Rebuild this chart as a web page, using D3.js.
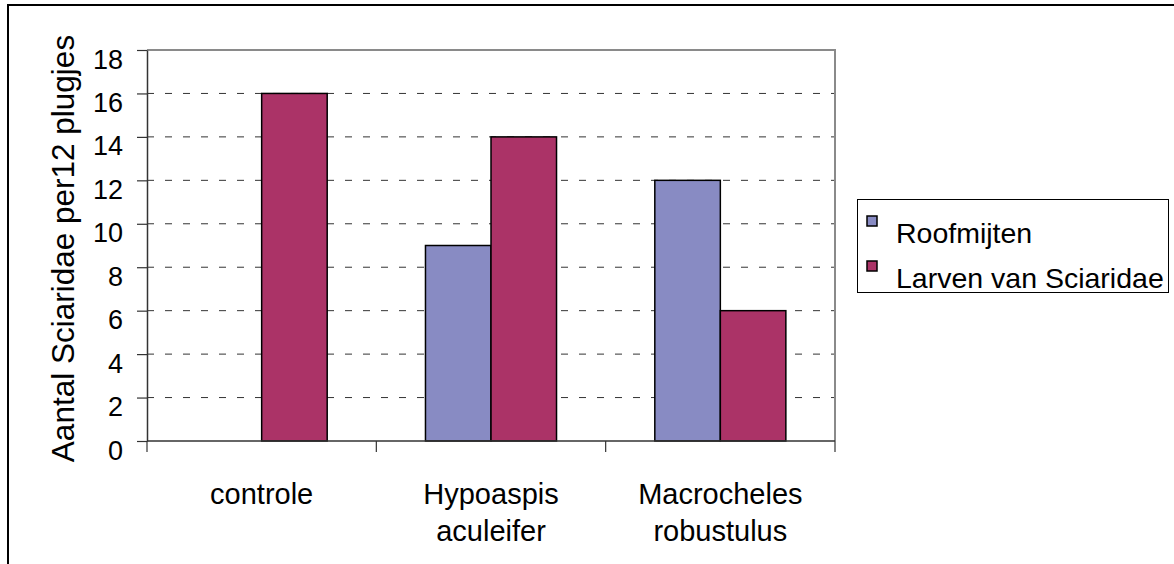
<!DOCTYPE html>
<html>
<head>
<meta charset="utf-8">
<script src="https://cdn.jsdelivr.net/npm/d3@7/dist/d3.min.js"></script>
<style>
  html, body { margin: 0; padding: 0; background: #fff; }
  svg { display: block; font-family: "Liberation Sans", Arial, sans-serif; }
</style>
</head>
<body>
<svg id="chart" width="1174" height="564"></svg>
<script>
// ---- data ----
const categories = [["controle"], ["Hypoaspis", "aculeifer"], ["Macrocheles", "robustulus"]];
const seriesNames = ["Roofmijten", "Larven van Sciaridae"];
const roofmijten = [0, 9, 12];
const larven = [16, 14, 6];
const yTicks = [0, 2, 4, 6, 8, 10, 12, 14, 16, 18];
const seriesColors = ["#888bc3", "#ab3367"];

const seriesValues = [roofmijten, larven];
const catKeys = categories.map(c => c.join(" "));

const svg = d3.select("#chart");

// outer frame (extends beyond picture edge)
svg.append("rect")
  .attr("x", 8).attr("y", 5)
  .attr("width", 1200).attr("height", 600)
  .attr("fill", "none").attr("stroke", "#000").attr("stroke-width", 2);

const plot = { left: 147, top: 50, right: 835, bottom: 441 };

const x = d3.scaleBand().domain(catKeys).range([plot.left, plot.right]).paddingInner(0).paddingOuter(0);
const xs = d3.scaleBand().domain(seriesNames).range([0, x.bandwidth()]).paddingInner(0).paddingOuter(0.75);
const y = d3.scaleLinear().domain([0, 18]).range([plot.bottom, plot.top]);

// dashed gridlines
svg.append("g").selectAll("line")
  .data(yTicks.filter(t => t > 0 && t < 18))
  .join("line")
  .attr("x1", plot.left).attr("x2", plot.right)
  .attr("y1", d => y(d)).attr("y2", d => y(d))
  .attr("stroke", "#333").attr("stroke-width", 1)
  .attr("stroke-dasharray", "7,11");

// top and right plot border (gray)
svg.append("path")
  .attr("d", `M${plot.left},${y(18)}H${plot.right}V${plot.bottom}`)
  .attr("fill", "none").attr("stroke", "#8a8a8a").attr("stroke-width", 2);

// bars
const barData = [];
catKeys.forEach((c, i) => {
  seriesNames.forEach((s, j) => {
    barData.push({ cat: c, series: s, value: seriesValues[j][i], color: seriesColors[j] });
  });
});

svg.append("g").selectAll("rect")
  .data(barData.filter(d => d.value > 0))
  .join("rect")
  .attr("x", d => x(d.cat) + xs(d.series))
  .attr("width", xs.bandwidth())
  .attr("y", d => y(d.value))
  .attr("height", d => y(0) - y(d.value))
  .attr("fill", d => d.color)
  .attr("stroke", "#000").attr("stroke-width", 1.5);

// y axis
const yAxis = d3.axisLeft(y).tickValues(yTicks).tickSize(10).tickPadding(14).tickSizeOuter(0);
const gy = svg.append("g").attr("transform", `translate(${plot.left},0)`).call(yAxis);
gy.select(".domain").attr("stroke", "#333").attr("stroke-width", 1.5);
gy.selectAll(".tick line").attr("stroke", "#333").attr("stroke-width", 1.2);
gy.selectAll(".tick text")
  .attr("dy", 18)
  .attr("fill", "#000")
  .style("font-size", "27px")
  .style("font-family", "'Liberation Sans', Arial, sans-serif");

// x axis line and boundary ticks
svg.append("line")
  .attr("x1", plot.left).attr("x2", plot.right)
  .attr("y1", y(0)).attr("y2", y(0))
  .attr("stroke", "#333").attr("stroke-width", 1.5);

const boundaries = catKeys.map(c => x(c)).concat([x(catKeys[catKeys.length - 1]) + x.bandwidth()]);
svg.append("g").selectAll("line")
  .data(boundaries)
  .join("line")
  .attr("x1", d => d).attr("x2", d => d)
  .attr("y1", y(0)).attr("y2", y(0) + 11)
  .attr("stroke", "#333").attr("stroke-width", 1.2);

// category labels
const catG = svg.append("g");
categories.forEach((lines, i) => {
  const cx = x(catKeys[i]) + x.bandwidth() / 2;
  const t = catG.append("text")
    .attr("x", cx).attr("y", y(0) + 63)
    .attr("text-anchor", "middle")
    .style("font-size", "29px")
    .attr("fill", "#000");
  lines.forEach((ln, k) => {
    t.append("tspan").attr("x", cx).attr("dy", k === 0 ? 0 : 37).text(ln);
  });
});

// y-axis title
svg.append("text")
  .attr("transform", `translate(74,${(plot.top + plot.bottom) / 2 + 3}) rotate(-90)`)
  .attr("text-anchor", "middle")
  .style("font-size", "31.5px")
  .attr("fill", "#000")
  .text("Aantal Sciaridae per12 plugjes");

// legend
const lg = svg.append("g");
lg.append("rect")
  .attr("x", 857.5).attr("y", 199.5)
  .attr("width", 311).attr("height", 93)
  .attr("fill", "#fff").attr("stroke", "#000").attr("stroke-width", 1);

seriesNames.forEach((s, j) => {
  const base = 243 + j * 45;
  lg.append("rect")
    .attr("x", 867).attr("y", base - 27)
    .attr("width", 10).attr("height", 10)
    .attr("fill", seriesColors[j]).attr("stroke", "#000").attr("stroke-width", 1.5);
  lg.append("text")
    .attr("x", 896).attr("y", base)
    .style("font-size", "28.5px")
    .attr("fill", "#000")
    .text(s);
});
</script>
</body>
</html>
